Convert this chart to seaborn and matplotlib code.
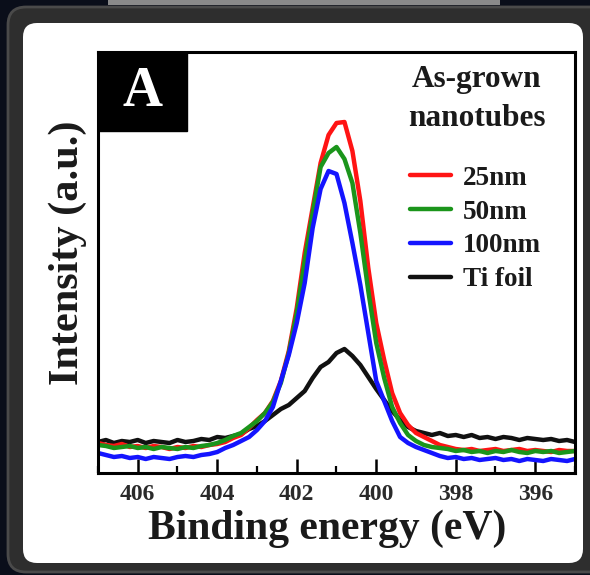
import numpy as np
import pandas as pd
import matplotlib
matplotlib.use("Agg")
import matplotlib.pyplot as plt
from matplotlib.patches import FancyBboxPatch, Rectangle
from matplotlib.lines import Line2D
from matplotlib.ticker import MultipleLocator
import seaborn as sns

# ---------------- data ----------------
energy = [407.0, 406.8, 406.6, 406.4, 406.2, 406.0, 405.8, 405.6, 405.4, 405.2,
          405.0, 404.8, 404.6, 404.4, 404.2, 404.0, 403.8, 403.6, 403.4, 403.2,
          403.0, 402.8, 402.6, 402.4, 402.2, 402.0, 401.8, 401.6, 401.4, 401.2,
          401.0, 400.8, 400.6, 400.4, 400.2, 400.0, 399.8, 399.6, 399.4, 399.2,
          399.0, 398.8, 398.6, 398.4, 398.2, 398.0, 397.8, 397.6, 397.4, 397.2,
          397.0, 396.8, 396.6, 396.4, 396.2, 396.0, 395.8, 395.6, 395.4, 395.2,
          395.0]

int_25nm = [30, 28, 27, 29, 26, 27, 25, 27, 26, 24,
            26, 25, 27, 26, 28, 29, 31, 35, 38, 45,
            53, 60, 72, 92, 122, 165, 220, 265, 310, 338,
            350, 351, 322, 272, 205, 150, 113, 80, 60, 48,
            40, 36, 32, 28, 26, 24, 23, 24, 22, 23,
            24, 22, 23, 24, 22, 23, 22, 21, 23, 22,
            22]

int_50nm = [28, 27, 25, 26, 27, 25, 26, 24, 26, 25,
            24, 26, 25, 27, 28, 30, 33, 37, 40, 46,
            52, 60, 71, 90, 120, 160, 212, 260, 306, 320,
            326, 314, 290, 240, 182, 130, 95, 66, 50, 38,
            32, 28, 26, 25, 24, 22, 23, 21, 22, 20,
            22, 21, 23, 21, 20, 22, 21, 22, 20, 21,
            22]

int_100nm = [20, 18, 16, 17, 15, 16, 14, 16, 15, 14,
             16, 17, 16, 18, 19, 21, 25, 28, 32, 36,
             43, 52, 66, 92, 118, 150, 190, 245, 284, 302,
             299, 270, 230, 188, 140, 92, 72, 52, 36, 30,
             26, 23, 20, 17, 15, 16, 14, 15, 13, 14,
             15, 13, 14, 12, 14, 13, 12, 14, 13, 12,
             14]

int_ti_foil = [31, 33, 30, 32, 31, 33, 30, 32, 31, 30,
               33, 31, 32, 34, 33, 36, 35, 37, 39, 44,
               47, 52, 58, 64, 68, 75, 82, 95, 106, 111,
               120, 124, 117, 108, 96, 84, 73, 62, 53, 46,
               42, 40, 38, 40, 37, 38, 36, 38, 35, 36,
               34, 36, 35, 33, 35, 34, 33, 34, 32, 33,
               31]

series_names = ["25nm", "50nm", "100nm", "Ti foil"]
series_colors = ["#ff1414", "#1b951b", "#1414ff", "#111111"]
x_ticks = [406, 404, 402, 400, 398, 396]
legend_title = ["As-grown", "nanotubes"]
panel_label = "A"
x_label = "Binding energy (eV)"
y_label = "Intensity (a.u.)"

# ---------------- build table ----------------
values = {"25nm": int_25nm, "50nm": int_50nm, "100nm": int_100nm, "Ti foil": int_ti_foil}
rows = []
for name in series_names:
    for e, v in zip(energy, values[name]):
        rows.append((e, v, name))
df = pd.DataFrame(rows, columns=["energy", "intensity", "sample"])
palette = dict(zip(series_names, series_colors))

# ---------------- style ----------------
sns.set_theme(style="ticks")
plt.rcParams["font.family"] = ["Liberation Serif", "DejaVu Serif"]
plt.rcParams["font.weight"] = "bold"

W, H = 590, 575
fig = plt.figure(figsize=(W / 100, H / 100), dpi=100)
fig.patch.set_facecolor("#0a0e1a")

# background frame in pixel coordinates
bg = fig.add_axes([0, 0, 1, 1], zorder=-5)
bg.set_xlim(0, W)
bg.set_ylim(H, 0)
bg.axis("off")
bg.add_patch(Rectangle((108, 0), 392, 5, color="#8a8a8a", lw=0))
bg.add_patch(FancyBboxPatch((8, 7), 600, 565, boxstyle="round,pad=0,rounding_size=18",
                            fc="#2e2e2e", ec="#4a4a4a", lw=2))
bg.add_patch(FancyBboxPatch((23, 23), 560, 540, boxstyle="round,pad=0,rounding_size=14",
                            fc="white", ec="none"))

# main axes
left, right, top, bottom = 98, 575, 52, 473
ax = fig.add_axes([left / W, 1 - bottom / H, (right - left) / W, (bottom - top) / H])
ax.set_facecolor("white")

draw_order = ["Ti foil", "25nm", "50nm", "100nm"]
sns.lineplot(data=df, x="energy", y="intensity", hue="sample", hue_order=draw_order,
             palette=palette, linewidth=3.2, errorbar=None, legend=False, ax=ax)

ax.set_xlim(407, 395)
ax.set_ylim(0, 421)
ax.set_yticks([])
ax.set_xticks(x_ticks)
ax.set_xticklabels([str(t) for t in x_ticks])
ax.xaxis.set_minor_locator(MultipleLocator(1))
ax.tick_params(axis="x", which="major", direction="in", length=10, width=1.8,
               pad=8, labelsize=17, labelcolor="#2a2a2a", color="black", top=False)
ax.tick_params(axis="x", which="minor", direction="in", length=5, width=1.6,
               color="black", top=False)
for sp in ax.spines.values():
    sp.set_linewidth(2.2)
    sp.set_color("black")

ax.set_xlabel(x_label, fontsize=30, fontweight="bold", color="#1a1a1a", labelpad=3.5)
ax.set_ylabel(y_label, fontsize=30.5, fontweight="bold", color="#1a1a1a", labelpad=8)
ax.xaxis.label.set_x((327 - left) / 477)
ax.yaxis.label.set_y((bottom - 253) / 421)

# panel label
ax.add_patch(Rectangle((0, 1 - 79 / 421), 89 / 477, 79 / 421, transform=ax.transAxes,
                       color="black", zorder=6, clip_on=False))
ax.text(44.5 / 477, 1 - 40 / 421, panel_label, transform=ax.transAxes, ha="center",
        va="center", fontsize=40, fontweight="bold", color="white", zorder=7)

# legend title
ax.text((477 - left) / 477, (bottom - 79) / 421, legend_title[0], transform=ax.transAxes,
        ha="center", va="center", fontsize=22.5, fontweight="bold", color="#1a1a1a")
ax.text((477 - left) / 477, (bottom - 118) / 421, legend_title[1], transform=ax.transAxes,
        ha="center", va="center", fontsize=22.5, fontweight="bold", color="#1a1a1a")

handles = [Line2D([0], [0], color=palette[n], lw=3.2) for n in series_names]
leg = ax.legend(handles, series_names, loc="center left",
                bbox_to_anchor=((410 - left) / 477, (bottom - 229) / 421),
                frameon=False, borderpad=0, borderaxespad=0, handlelength=1.52,
                handletextpad=0.44, labelspacing=0.33,
                prop={"family": "Liberation Serif", "weight": "bold", "size": 19.5})
for t in leg.get_texts():
    t.set_color("#1a1a1a")

fig.savefig("out.png", dpi=100, facecolor=fig.get_facecolor())
